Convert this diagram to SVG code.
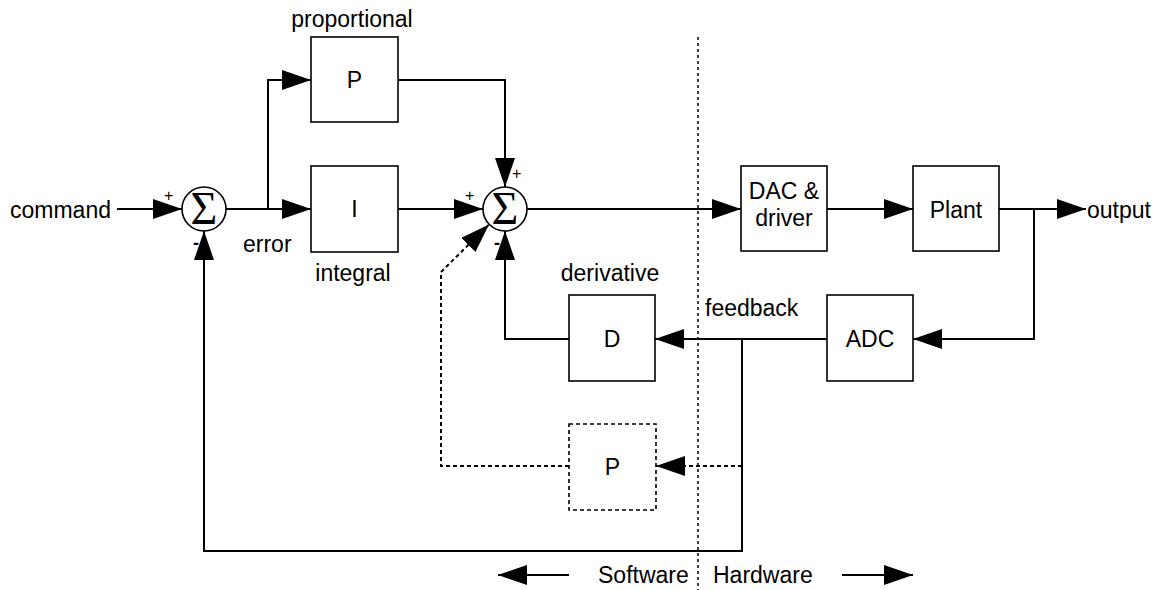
<svg xmlns="http://www.w3.org/2000/svg" width="1157" height="590" viewBox="0 0 1157 590">
<style>
.t{font-family:"Liberation Sans",Arial,sans-serif;font-size:23px;fill:#000}
.m{text-anchor:middle}
.s{font-family:"Liberation Sans",Arial,sans-serif;font-size:16px;fill:#000}
.mi{font-family:"Liberation Sans",Arial,sans-serif;font-size:18px;font-weight:bold;fill:#000}
.sig{font-family:"Liberation Serif","Times New Roman",serif;font-size:46px;fill:#000;text-anchor:middle}
.box{fill:#fff;stroke:#000;stroke-width:1.6}
.dbox{fill:#fff;stroke:#000;stroke-width:1.6;stroke-dasharray:4 3}
.c{fill:none;stroke:#000;stroke-width:2}
.d{fill:none;stroke:#000;stroke-width:2;stroke-dasharray:4 3}
.div{fill:none;stroke:#000;stroke-width:1.5;stroke-dasharray:3 3}
.sum{fill:#fff;stroke:#000;stroke-width:1.6}
</style>
<defs>
<marker id="ah" viewBox="0 0 29 20" refX="29" refY="10" markerWidth="29" markerHeight="20" markerUnits="userSpaceOnUse" orient="auto">
<path d="M0,0 L29,10 L0,20 Z" fill="#000"/>
</marker>
</defs>
<rect width="1157" height="590" fill="#fff"/>

<g id="divider">
<path class="div" d="M698,37 V590"/>
</g>

<g id="connectors">
<path class="c" d="M117,209 H182" marker-end="url(#ah)"/>
<path class="c" d="M226,209 H311" marker-end="url(#ah)"/>
<path class="c" d="M268,209 V80 H311" marker-end="url(#ah)"/>
<path class="c" d="M398,80 H505 V187" marker-end="url(#ah)"/>
<path class="c" d="M398,209 H483" marker-end="url(#ah)"/>
<path class="c" d="M527,209 H741" marker-end="url(#ah)"/>
<path class="c" d="M827,209 H913" marker-end="url(#ah)"/>
<path class="c" d="M999,209 H1086" marker-end="url(#ah)"/>
<path class="c" d="M1034,209 V339 H913" marker-end="url(#ah)"/>
<path class="c" d="M827,339 H655" marker-end="url(#ah)"/>
<path class="c" d="M569,339 H505 V231" marker-end="url(#ah)"/>
<path class="c" d="M742,339 V551 H204 V231" marker-end="url(#ah)"/>
<path class="d" d="M742,466 H656" marker-end="url(#ah)"/>
<path class="d" d="M569,466 H441 V272 L489,224.5" marker-end="url(#ah)"/>
<path class="c" d="M569,575 H498" marker-end="url(#ah)"/>
<path class="c" d="M842,575 H913" marker-end="url(#ah)"/>
</g>

<g id="sum1">
<circle class="sum" cx="204" cy="209" r="22"/>
<text class="sig" x="204" y="224">Σ</text>
<text class="s" x="164" y="201">+</text>
<text class="mi" x="193" y="249">-</text>
</g>

<g id="sum2">
<circle class="sum" cx="505" cy="209" r="22"/>
<text class="sig" x="505" y="224">Σ</text>
<text class="s" x="465" y="201">+</text>
<text class="s" x="512" y="179">+</text>
<text class="mi" x="494" y="249">-</text>
</g>

<g id="P">
<rect class="box" x="311" y="37" width="87" height="85"/>
<text class="t m" x="354.5" y="88">P</text>
<text class="t m" x="352" y="27">proportional</text>
</g>

<g id="I">
<rect class="box" x="311" y="166" width="87" height="86"/>
<text class="t m" x="354.5" y="217">I</text>
<text class="t m" x="353" y="281">integral</text>
</g>

<g id="D">
<rect class="box" x="569" y="295" width="86" height="86"/>
<text class="t m" x="612" y="347">D</text>
<text class="t m" x="610" y="281">derivative</text>
</g>

<g id="P2">
<rect class="dbox" x="569" y="424" width="87" height="86"/>
<text class="t m" x="612.5" y="475">P</text>
</g>

<g id="DAC">
<rect class="box" x="741" y="166" width="86" height="85"/>
<text class="t m" x="784" y="199">DAC &amp;</text>
<text class="t m" x="784" y="226">driver</text>
</g>

<g id="Plant">
<rect class="box" x="913" y="166" width="86" height="85"/>
<text class="t m" x="956" y="218">Plant</text>
</g>

<g id="ADC">
<rect class="box" x="827" y="295" width="86" height="86"/>
<text class="t m" x="870" y="347">ADC</text>
</g>

<g id="labels">
<text class="t" x="10" y="218">command</text>
<text class="t" x="1087" y="218">output</text>
<text class="t" x="243" y="252">error</text>
<text class="t" x="705" y="316">feedback</text>
<text class="t" x="598" y="583">Software</text>
<text class="t" x="713" y="583">Hardware</text>
</g>
</svg>
